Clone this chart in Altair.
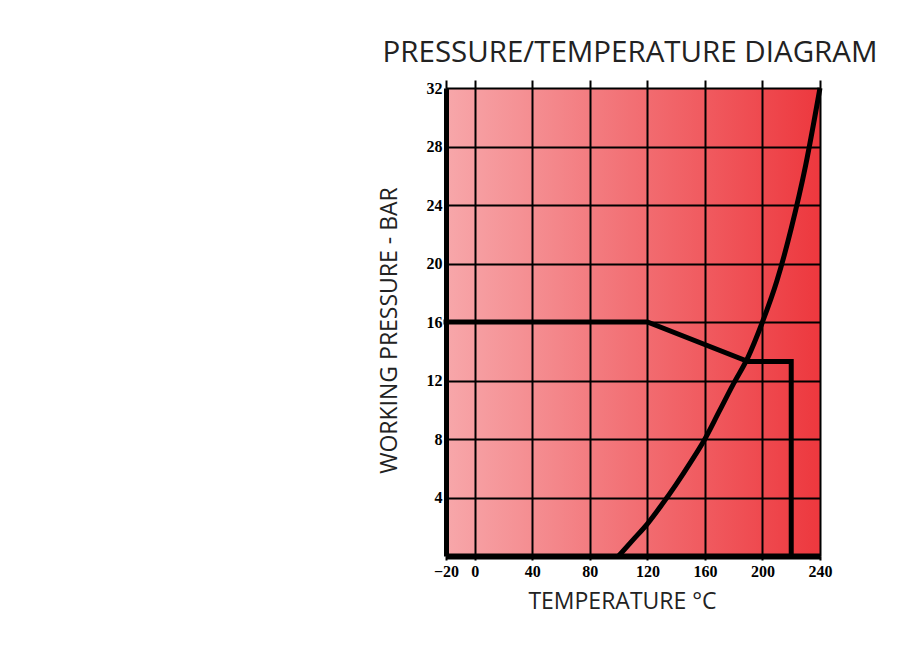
import altair as alt
import pandas as pd

# ---- data ----
x_tick_values = [-20, 0, 40, 80, 120, 160, 200, 240]
x_top_ticks = [-20, 0, 40, 80, 120, 160, 200, 240]
y_tick_values = [0, 4, 8, 12, 16, 20, 24, 28, 32]

# saturation-type curve
curve_temp = [100, 110, 120, 130, 140, 150, 160, 170, 180, 190, 200, 210, 220, 230, 240]
curve_bar = [0, 1.1, 2.2, 3.5, 4.9, 6.4, 8.0, 9.9, 11.8, 13.6, 16.0, 18.8, 22.4, 26.7, 32.0]

# working envelope
limit_temp = [-20, 120, 190, 220, 220]
limit_bar = [16, 16, 13.3, 13.3, 0]

x_domain = [-20, 240]
y_domain = [0, 32]

title_text = "PRESSURE/TEMPERATURE DIAGRAM"
x_title = "TEMPERATURE °C"
y_title = "WORKING PRESSURE - BAR"

grad_left = "#f7a7aa"
grad_right = "#ed383e"

sans = "Open Sans"
serif = "Liberation Serif"

xscale = alt.Scale(domain=x_domain, nice=False, zero=False)
yscale = alt.Scale(domain=y_domain, nice=False, zero=False)

bg_df = pd.DataFrame({"x": [x_domain[0]], "x2": [x_domain[1]],
                      "y": [y_domain[0]], "y2": [y_domain[1]]})
curve_df = pd.DataFrame({"t": curve_temp, "p": curve_bar})
limit_df = pd.DataFrame({"t": limit_temp, "p": limit_bar, "i": list(range(len(limit_temp)))})

bg = alt.Chart(bg_df).mark_rect(
    fill=alt.Gradient(
        gradient="linear",
        stops=[alt.GradientStop(color=grad_left, offset=0),
               alt.GradientStop(color=grad_right, offset=1)],
        x1=0, x2=1, y1=0, y2=0),
).encode(
    x=alt.X("x:Q", scale=xscale, axis=alt.Axis(
        orient="bottom", values=x_tick_values, title=x_title,
        grid=True, gridColor="black", gridWidth=2, gridOpacity=1,
        domain=True, domainColor="black", domainWidth=6,
        ticks=True, tickColor="black", tickWidth=2, tickSize=4,
        labelFont=serif, labelFontWeight="bold", labelFontSize=16, labelColor="black",
        labelPadding=3, labelFlush=False, labelOverlap=False,
        titleFont=sans, titleFontSize=23, titleFontWeight="normal", titleColor="#222222",
        titleX=176, titleY=52, titleAlign="center", titleBaseline="alphabetic",
        zindex=1)),
    x2="x2:Q",
    y=alt.Y("y:Q", scale=yscale, axis=alt.Axis(
        orient="left", values=y_tick_values, title=y_title,
        grid=True, gridColor="black", gridWidth=2, gridOpacity=1,
        domain=True, domainColor="black", domainWidth=5,
        ticks=False, labelPadding=4,
        labelExpr="datum.value == 0 ? '' : datum.label",
        labelFont=serif, labelFontWeight="bold", labelFontSize=16, labelColor="black",
        labelFlush=False, labelOverlap=False,
        titleFont=sans, titleFontSize=23, titleFontWeight="normal", titleColor="#222222",
        titleX=-50, titleY=242, titleAlign="center", titleBaseline="alphabetic",
        zindex=1)),
    y2="y2:Q",
)

curve = alt.Chart(curve_df).mark_line(
    color="black", strokeWidth=5, interpolate="monotone", clip=False
).encode(
    x=alt.X("t:Q", scale=xscale, axis=alt.Axis(
        orient="top", values=x_top_ticks, title=None, labels=False,
        domain=False, grid=False, ticks=True, tickColor="black",
        tickWidth=2, tickSize=8, zindex=1)),
    y=alt.Y("p:Q", scale=yscale),
)

limit = alt.Chart(limit_df).mark_line(
    color="black", strokeWidth=5, strokeJoin="miter", strokeCap="square"
).encode(
    x=alt.X("t:Q", scale=xscale, axis=None),
    y=alt.Y("p:Q", scale=yscale),
    order="i:Q",
)

chart = alt.layer(bg, curve, limit).properties(
    width=374, height=468,
    title=alt.TitleParams(text=title_text, font=sans, fontSize=29.5, fontWeight="normal",
                          color="#222222", anchor="middle", frame="group",
                          baseline="alphabetic", offset=18, dx=-3, dy=31),
    autosize=alt.AutoSizeParams(type="none"),
    padding={"left": 438, "top": 80, "right": 60, "bottom": 70},
).configure_view(stroke=None)

chart.save("out.html", embed_options={"renderer": "svg", "actions": False})
